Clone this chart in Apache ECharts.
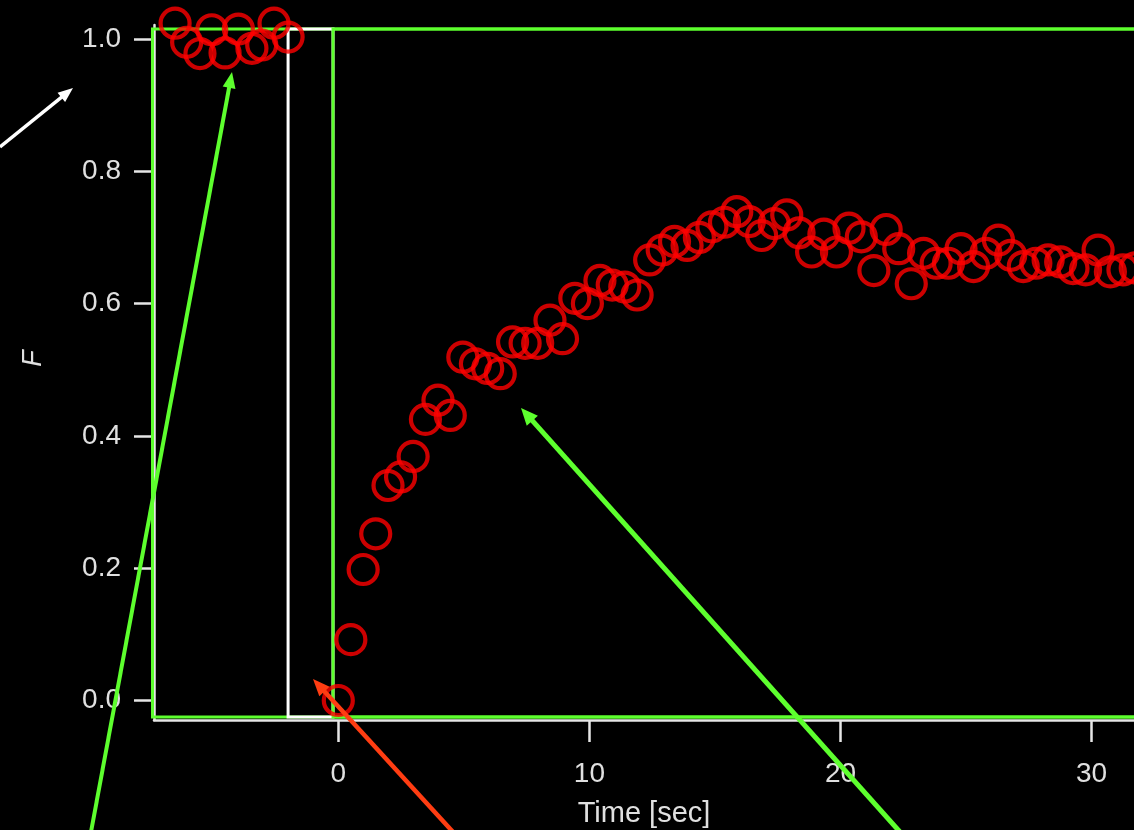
<!DOCTYPE html>
<html>
<head>
<meta charset="utf-8">
<script src="https://cdn.jsdelivr.net/npm/echarts@6/dist/echarts.min.js"></script>
<style>
html,body{margin:0;padding:0;background:#000;overflow:hidden;}
#c{width:1134px;height:830px;}
</style>
</head>
<body>
<div id="c"></div>
<script>
// ---- data ----
const preTime = [-6.50, -6.04, -5.51, -5.04, -4.51, -3.98, -3.44, -3.05, -2.56, -2.00];
const preF    = [1.024, 0.995, 0.978, 1.014, 0.979, 1.015, 0.986, 0.991, 1.024, 1.003];

const postTime = [0, 0.50, 0.99, 1.49, 1.98, 2.48, 2.98, 3.47, 3.97, 4.46,
  4.96, 5.46, 5.95, 6.45, 6.94, 7.44, 7.94, 8.43, 8.93, 9.42,
  9.92, 10.42, 10.91, 11.41, 11.90, 12.40, 12.90, 13.39, 13.89, 14.38,
  14.88, 15.38, 15.87, 16.37, 16.86, 17.36, 17.86, 18.35, 18.85, 19.34,
  19.84, 20.34, 20.83, 21.33, 21.82, 22.32, 22.82, 23.31, 23.81, 24.30,
  24.80, 25.30, 25.79, 26.29, 26.78, 27.28, 27.78, 28.27, 28.77, 29.26,
  29.76, 30.26, 30.75, 31.25, 31.74];
const postF = [0.000, 0.092, 0.198, 0.252, 0.325, 0.338, 0.369, 0.425, 0.454, 0.431,
  0.519, 0.509, 0.502, 0.494, 0.542, 0.540, 0.540, 0.575, 0.547, 0.608,
  0.600, 0.635, 0.628, 0.625, 0.613, 0.666, 0.681, 0.694, 0.688, 0.700,
  0.716, 0.723, 0.739, 0.724, 0.703, 0.721, 0.734, 0.707, 0.678, 0.705,
  0.678, 0.714, 0.701, 0.650, 0.712, 0.683, 0.630, 0.676, 0.661, 0.661,
  0.683, 0.656, 0.676, 0.696, 0.673, 0.656, 0.661, 0.666, 0.663, 0.653,
  0.651, 0.681, 0.648, 0.651, 0.654];

const xTicks = [0, 10, 20, 30];
const yTicks = [0, 0.2, 0.4, 0.6, 0.8, 1.0];
const xTitle = 'Time [sec]';
const yTitle = 'F';

// annotation regions (data coordinates)
const boxBottom = -0.025, boxTop = 1.015;
const preStart = -7.40, bleachStart = -2.0, bleachEnd = -0.21, postEnd = 34;

// ---- styles ----
const AXIS = '#e6e6e6';
const TXT = '#e0e0e0';
const GREEN = '#5dff2e';
const FONT = 'Liberation Sans, Arial, Helvetica, sans-serif';

function toPairs(xs, ys){ return xs.map((x,i)=>[x, ys[i]]); }

function arrow(x1, y1, x2, y2, color, w, hl, hw){
  const dx = x2-x1, dy = y2-y1, L = Math.hypot(dx,dy);
  const ux = dx/L, uy = dy/L, px = -uy, py = ux;
  const bx = x2-ux*hl, by = y2-uy*hl;
  return [
    {type:'line', z:200, shape:{x1:x1, y1:y1, x2:bx+ux*2, y2:by+uy*2},
     style:{stroke:color, lineWidth:w}},
    {type:'polygon', z:200, shape:{points:[[x2,y2],[bx+px*hw,by+py*hw],[bx-px*hw,by-py*hw]]},
     style:{fill:color}}
  ];
}

const arrows = [].concat(
  arrow(0, 147, 73, 88, '#ffffff', 3.5, 15, 6),
  arrow(91, 832, 232, 72, GREEN, 4, 16, 6.5),
  arrow(453, 832, 313, 679, '#ff3d12', 4.5, 17, 7),
  arrow(900, 832, 521, 408, GREEN, 5, 17, 7.5)
);

const circleStyle = {color:'rgba(0,0,0,0)', borderColor:'#ff0000', borderWidth:4.2};

const chart = echarts.init(document.getElementById('c'), null, {renderer:'canvas'});
chart.setOption({
  backgroundColor:'#000',
  animation:false,
  grid:{left:154, right:0, top:25, bottom:110, containLabel:false, outerBoundsMode:'none'},
  xAxis:{
    type:'value', min:-7.34, max:31.69,
    name:xTitle, nameLocation:'middle', nameGap:79,
    nameTextStyle:{color:TXT, fontSize:29, fontFamily:FONT},
    axisLine:{show:true, onZero:false, lineStyle:{color:AXIS, width:2.5}},
    axisTick:{show:true, length:22, customValues:xTicks, lineStyle:{color:AXIS, width:2.5}},
    axisLabel:{customValues:xTicks, color:TXT, fontSize:28, fontFamily:FONT, margin:40,
      formatter:v=>String(v)},
    splitLine:{show:false}
  },
  yAxis:{
    type:'value', min:-0.0295, max:1.0212,
    name:yTitle, nameLocation:'middle', nameGap:107,
    nameTextStyle:{color:TXT, fontSize:27, fontStyle:'italic', fontFamily:FONT, padding:[0,0,0,28]},
    axisLine:{show:true, onZero:false, lineStyle:{color:AXIS, width:2.5}},
    axisTick:{show:true, length:20, customValues:yTicks, lineStyle:{color:AXIS, width:2.5}},
    axisLabel:{customValues:yTicks, color:TXT, fontSize:28, fontFamily:FONT, margin:33,
      formatter:v=>v.toFixed(1)},
    splitLine:{show:false}
  },
  graphic:arrows,
  series:[
    {
      type:'scatter', name:'pre-bleach', data:toPairs(preTime, preF), clip:false, z:5,
      symbol:'circle', symbolSize:29, itemStyle:circleStyle
    },
    {
      type:'scatter', name:'recovery', data:toPairs(postTime, postF), clip:false, z:5,
      symbol:'circle', symbolSize:29, itemStyle:circleStyle
    }
  ]
});

// region boxes placed through the chart's own scales
function boxFrom(t0, t1, color){
  const p0 = chart.convertToPixel({gridIndex:0}, [t0, boxTop]);
  const p1 = chart.convertToPixel({gridIndex:0}, [t1, boxBottom]);
  return {type:'rect', z:1, silent:true,
    shape:{x:p0[0], y:p0[1], width:p1[0]-p0[0], height:p1[1]-p0[1]},
    style:{fill:'rgba(0,0,0,0)', stroke:color, lineWidth:3}};
}
const boxes = [
  boxFrom(preStart, postEnd, GREEN),
  boxFrom(bleachStart, bleachEnd, '#ffffff'),
  boxFrom(bleachEnd, postEnd, GREEN)
];
chart.setOption({graphic:{elements: boxes.concat(arrows)}}, {replaceMerge:['graphic']});
</script>
</body>
</html>
